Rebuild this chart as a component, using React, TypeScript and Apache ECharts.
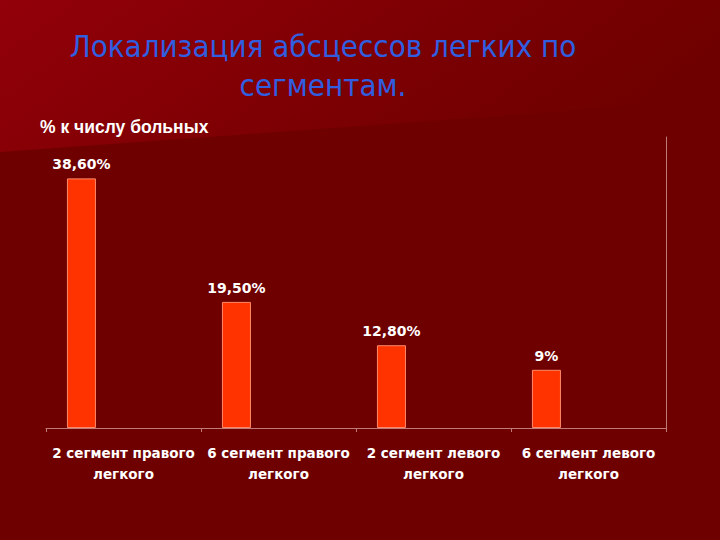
import React, { useEffect, useRef } from "react";
import * as echarts from "echarts";

const categories = [
  "2 сегмент правого\nлегкого",
  "6 сегмент правого\nлегкого",
  "2 сегмент левого\nлегкого",
  "6 сегмент левого\nлегкого",
];
const values = [38.6, 19.5, 12.8, 9];
const valueLabels = ["38,60%", "19,50%", "12,80%", "9%"];
const emptySeries = [null, null, null, null];
const titleLines = ["Локализация абсцессов легких по", "сегментам."];
const subtitle = "% к числу больных";

export default function App() {
  const ref = useRef<HTMLDivElement>(null);
  useEffect(() => {
    const chart = echarts.init(ref.current!, null, { renderer: "svg" });
    chart.setOption({
      animation: false,
      backgroundColor: "#6e0000",
      graphic: [
        {
          type: "polygon",
          z: -10,
          silent: true,
          shape: { points: [[0, 0], [720, 0], [720, 100], [0, 152]] },
          style: {
            fill: new echarts.graphic.LinearGradient(0, 0, 1, 0.3, [
              { offset: 0, color: "#920008" },
              { offset: 0.6, color: "#7c0003" },
              { offset: 1, color: "#6f0000" },
            ]),
          },
        },
        {
          type: "text",
          x: 323,
          y: 46,
          style: {
            text: titleLines[0],
            fill: "#2f5fe0",
            font: "31px 'Liberation Sans Narrow', 'DejaVu Sans Condensed', sans-serif",
            align: "center",
            verticalAlign: "middle",
          },
        },
        {
          type: "text",
          x: 323,
          y: 85,
          style: {
            text: titleLines[1],
            fill: "#2f5fe0",
            font: "31px 'Liberation Sans Narrow', 'DejaVu Sans Condensed', sans-serif",
            align: "center",
            verticalAlign: "middle",
          },
        },
        {
          type: "text",
          x: 40,
          y: 127,
          style: {
            text: subtitle,
            fill: "#ffffff",
            font: "bold 17.5px 'Liberation Sans', Arial, sans-serif",
            align: "left",
            verticalAlign: "middle",
          },
        },
      ],
      grid: { left: 46, right: 54, top: 137, bottom: 112, containLabel: false },
      xAxis: {
        type: "category",
        data: categories,
        axisLine: { show: true, lineStyle: { color: "#c07a7a", width: 1 } },
        axisTick: { show: true, interval: 0, length: 4, lineStyle: { color: "#c07a7a" } },
        axisLabel: {
          interval: 0,
          color: "#ffffff",
          fontFamily: "'DejaVu Sans', Verdana, sans-serif",
          fontWeight: "bold",
          fontSize: 13.5,
          lineHeight: 21,
          margin: 14,
        },
      },
      yAxis: {
        type: "value",
        position: "right",
        min: 0,
        max: 45,
        axisLine: { show: true, lineStyle: { color: "#c07a7a", width: 1 } },
        axisTick: { show: false },
        axisLabel: { show: false },
        splitLine: { show: false },
      },
      series: [
        {
          type: "bar",
          data: values,
          barWidth: 29,
          barGap: "45%",
          itemStyle: { color: "#ff3300", borderColor: "#ff8a6a", borderWidth: 1 },
          label: {
            show: true,
            position: "top",
            distance: 7,
            color: "#ffffff",
            fontFamily: "'DejaVu Sans', Verdana, sans-serif",
            fontWeight: "bold",
            fontSize: 14,
            formatter: (p: any) => valueLabels[p.dataIndex],
          },
        },
        { type: "bar", data: emptySeries, barWidth: 29, barGap: "45%" },
        { type: "bar", data: emptySeries, barWidth: 29, barGap: "45%" },
      ],
    });
    return () => chart.dispose();
  }, []);
  return <div ref={ref} style={{ width: 720, height: 540, position: "absolute", left: 0, top: 0 }} />;
}
